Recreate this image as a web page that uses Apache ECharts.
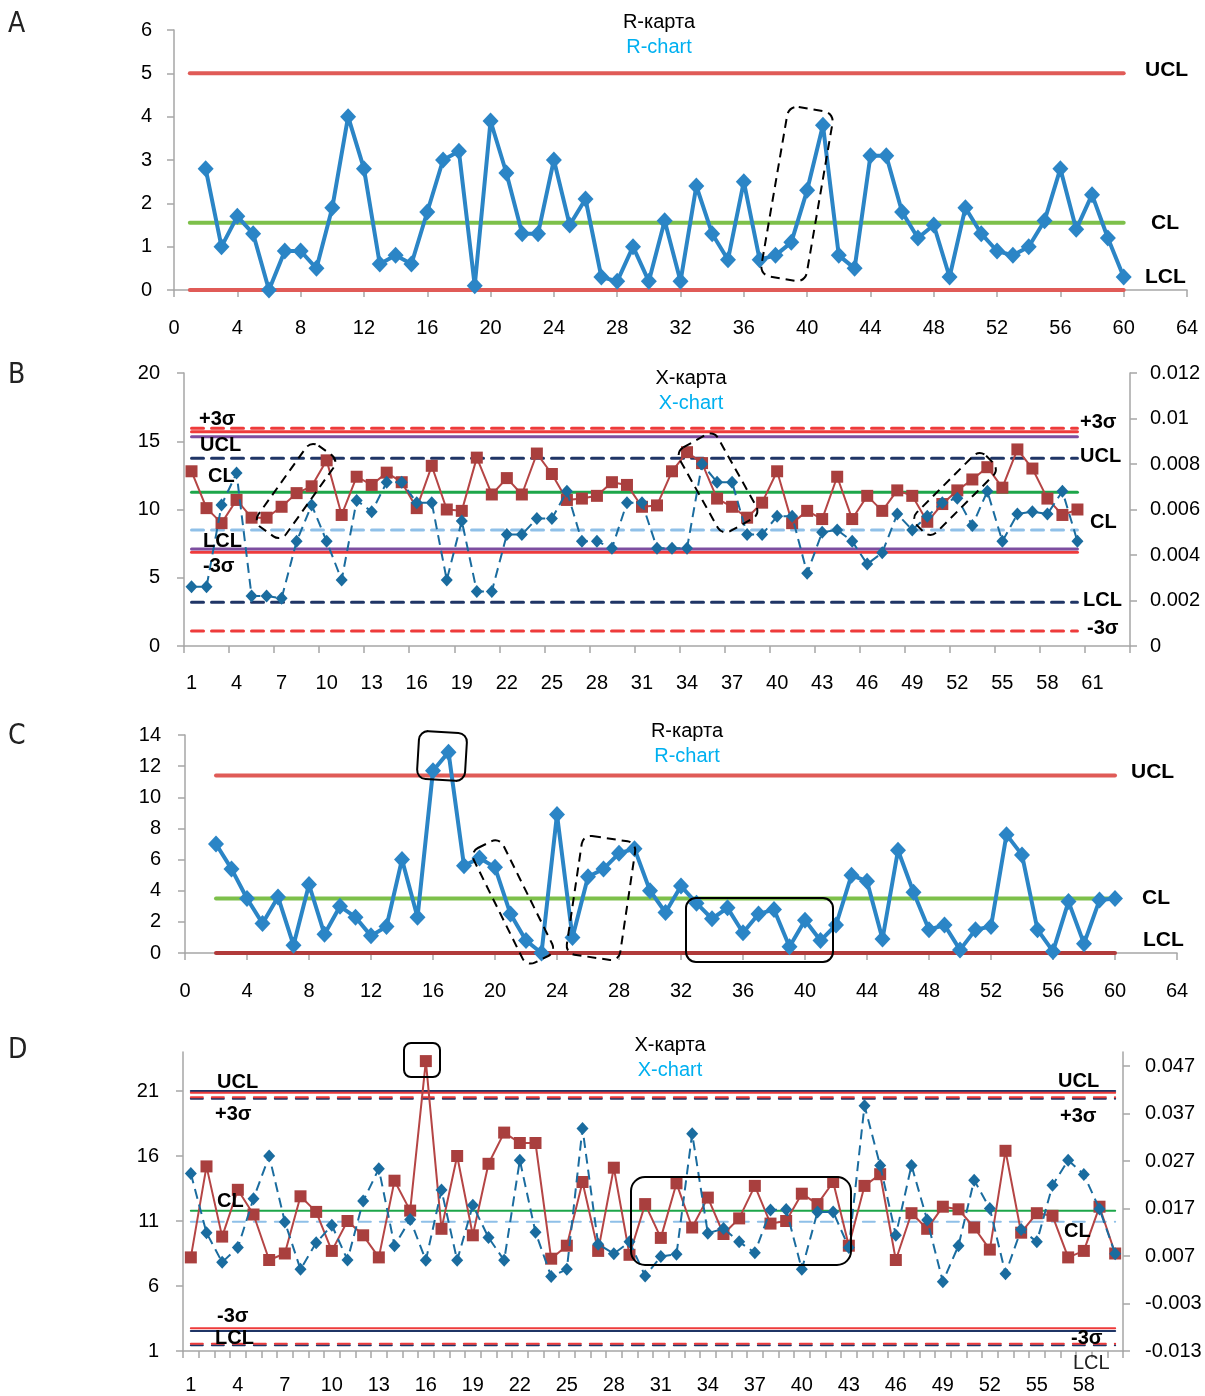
<!DOCTYPE html>
<html><head><meta charset="utf-8">
<script src="https://cdn.jsdelivr.net/npm/echarts@6/dist/echarts.min.js"></script>
<style>html,body{margin:0;padding:0;background:#fff}#c{width:1205px;height:1396px}</style>
</head><body><div id="c"></div>
<script>
// ---------- DATA ----------
// Panel A (R-chart), samples 2..60
const aStart = 2;
const aValues = [2.8,1.0,1.7,1.3,0,0.9,0.9,0.5,1.9,4.0,2.8,0.6,0.8,0.6,1.8,3.0,3.2,0.1,3.9,2.7,1.3,1.3,3.0,1.5,2.1,0.3,0.2,1.0,0.2,1.6,0.2,2.4,1.3,0.7,2.5,0.7,0.8,1.1,2.3,3.8,0.8,0.5,3.1,3.1,1.8,1.2,1.5,0.3,1.9,1.3,0.9,0.8,1.0,1.6,2.8,1.4,2.2,1.2,0.3];
const aUCL = 5, aCL = 1.55, aLCL = 0;
const aLineRange = [1, 60];

// Panel B (X-chart), samples 1..60 on 63 categories
const bCategories = Array.from({length: 63}, (_, i) => String(i + 1));
const bRed = [12.8,10.1,9.0,10.7,9.4,9.4,10.2,11.2,11.7,13.6,9.6,12.4,11.8,12.7,12.0,10.1,13.2,10.0,9.9,13.8,11.1,12.3,11.1,14.1,12.6,10.7,10.8,11.0,12.0,11.8,10.2,10.3,12.8,14.2,13.4,10.8,10.2,9.4,10.5,12.8,9.0,9.9,9.3,12.4,9.3,11.0,9.9,11.4,11.0,9.1,10.4,11.4,12.2,13.1,11.6,14.4,13.0,10.8,9.6,10.0];
const bBlue = [0.0026,0.0026,0.0062,0.0076,0.0022,0.0022,0.0021,0.0046,0.0062,0.0046,0.0029,0.0064,0.0059,0.0072,0.0072,0.0063,0.0063,0.0029,0.0055,0.0024,0.0024,0.0049,0.0049,0.0056,0.0056,0.0068,0.0046,0.0046,0.0043,0.0063,0.0063,0.0043,0.0043,0.0043,0.0080,0.0072,0.0072,0.0049,0.0049,0.0057,0.0057,0.0032,0.0050,0.0051,0.0046,0.0036,0.0041,0.0058,0.0051,0.0057,0.0063,0.0065,0.0053,0.0068,0.0046,0.0058,0.0059,0.0058,0.0068,0.0046];
const bPlus3SigmaDash = 15.95, bPlus3Sigma = 15.7, bUCLsolid = 15.33, bUCLdash = 13.75, bCL = 11.26, bCLdash = 8.5, bLCLsolid = 7.1, bMinus3Sigma = 6.86, bLCLdash = 3.2, bMinus3SigmaDash = 1.1;
const bLineRange = [0, 59];

// Panel C (R-chart), samples 2..60
const cStart = 2;
const cValues = [7.0,5.4,3.5,1.9,3.6,0.5,4.4,1.2,3.0,2.3,1.1,1.7,6.0,2.3,11.7,12.9,5.6,6.1,5.5,2.5,0.8,0,8.9,1.0,4.9,5.4,6.4,6.7,4.0,2.6,4.3,3.2,2.2,2.9,1.3,2.5,2.8,0.4,2.1,0.8,1.8,5.0,4.6,0.9,6.6,3.9,1.5,1.8,0.2,1.5,1.7,7.6,6.3,1.5,0.1,3.3,0.6,3.4,3.5];
const cUCL = 11.4, cCL = 3.5, cLCL = 0;
const cLineRange = [2, 60];

// Panel D (X-chart), samples 1..60
const dCategories = Array.from({length: 60}, (_, i) => String(i + 1));
const dRed = [8.2,15.2,9.8,13.4,11.5,8.0,8.5,12.9,11.7,8.7,11.0,9.9,8.2,14.1,11.8,23.3,10.4,16.0,9.9,15.4,17.8,17.0,17.0,8.1,9.1,14.0,8.7,15.1,8.4,12.3,9.7,13.9,10.5,12.8,10.0,11.2,13.7,10.8,11.0,13.1,12.3,14.0,9.1,13.7,14.6,8.0,11.6,10.4,12.1,11.9,10.5,8.8,16.4,10.1,11.6,11.4,8.2,8.7,12.1,8.5];
const dBlue = [0.0244,0.0119,0.0057,0.0088,0.0191,0.0281,0.0142,0.0042,0.0098,0.0135,0.0062,0.0186,0.0254,0.0092,0.0147,0.0061,0.0209,0.0061,0.0177,0.0109,0.0061,0.0272,0.0120,0.0027,0.0042,0.0339,0.0095,0.0075,0.0100,0.0028,0.0069,0.0074,0.0328,0.0118,0.0128,0.0100,0.0077,0.0167,0.0168,0.0042,0.0163,0.0163,0.0088,0.0387,0.0261,0.0114,0.0261,0.0146,0.0016,0.0092,0.0230,0.0170,0.0033,0.0126,0.0100,0.0219,0.0272,0.0242,0.0169,0.0075];
const dUCL = 21.0, dPlus3Sigma = 20.87, dPlus3SigmaDashRed = 20.52, dPlus3SigmaDashNavy = 20.41, dCL = 11.78, dCLdash = 10.94, dMinus3Sigma = 2.75, dLCL = 2.54, dMinus3SigmaDashRed = 1.56, dMinus3SigmaDashNavy = 1.45;
const dLineRange = [0, 59];
const dLeftTicks = [1, 6, 11, 16, 21];
const dRightTicks = [-0.013, -0.003, 0.007, 0.017, 0.027, 0.037, 0.047];

// ---------- STYLE ----------
const FONT = '"Liberation Sans", Arial, sans-serif';
const AX = '#A6A6A6';
const C_BLUE = '#2B85C6', C_RED_A = '#E05B57', C_GREEN_A = '#7DC04A', C_DKRED = '#B13A3A';
const C_SQ = '#A93F3E', C_SQLINE = '#B54545', C_DIA = '#1A6C9F';
const C_RED = '#EE3B3B', C_PURPLE = '#7D4EA0', C_NAVY = '#1F3566', C_GREEN = '#1DA64A', C_LBLUE = '#8FC0E8';

function pairs(start, vals) { return vals.map((v, i) => [start + i, v]); }
function hLine(gi, xi, yi, range, v, color, width, type, z) {
  return {
    type: 'line', xAxisIndex: xi, yAxisIndex: yi, data: [[range[0], v], [range[1], v]],
    symbol: 'none', silent: true, z: z || 2,
    lineStyle: {color: color, width: width, type: type || 'solid', cap: 'round'}
  };
}
const axisLabelBase = {color: '#000', fontFamily: FONT, fontSize: 20};
function valX(gi, min, max, interval, margin) {
  return {type: 'value', gridIndex: gi, min: min, max: max, interval: interval,
    axisLine: {show: true, onZero: false, lineStyle: {color: AX, width: 1.5}},
    axisTick: {show: true, length: 7, lineStyle: {color: AX, width: 1.5}},
    axisLabel: Object.assign({margin: margin}, axisLabelBase),
    splitLine: {show: false}};
}
function catX(gi, data, labelInt, tickInt, margin) {
  return {type: 'category', gridIndex: gi, data: data, boundaryGap: true,
    axisLine: {show: true, onZero: false, lineStyle: {color: AX, width: 1.5}},
    axisTick: {show: true, length: 7, interval: tickInt, lineStyle: {color: AX, width: 1.5}},
    axisLabel: Object.assign({margin: margin, interval: labelInt}, axisLabelBase),
    splitLine: {show: false}};
}
function valY(gi, min, max, interval, margin, pos, extra) {
  const o = {type: 'value', gridIndex: gi, min: min, max: max, interval: interval, position: pos || 'left',
    axisLine: {show: true, onZero: false, lineStyle: {color: AX, width: 1.5}},
    axisTick: {show: true, length: 7, lineStyle: {color: AX, width: 1.5}},
    axisLabel: Object.assign({margin: margin}, axisLabelBase),
    splitLine: {show: false}};
  if (extra) extra(o);
  return o;
}

// ---------- OPTION ----------
const grids = [
  {left: 174, top: 30, width: 1013, height: 260},
  {left: 184, top: 373, width: 946, height: 273},
  {left: 185, top: 735, width: 992, height: 218},
  {left: 183, top: 1052, width: 940, height: 299}
].map(g => Object.assign({containLabel: false, outerBoundsMode: 'none'}, g));

const xAxes = [
  valX(0, 0, 64, 4, 28),
  catX(1, bCategories, 2, 2, 27),
  valX(2, 0, 64, 4, 28),
  catX(3, dCategories, 2, 0, 24)
];
const yAxes = [
  valY(0, 0, 6, 1, 22),
  valY(1, 0, 20, 5, 24),
  valY(1, 0, 0.012, 0.002, 20, 'right'),
  valY(2, 0, 14, 2, 24),
  valY(3, 1, 24, null, 24, 'left', o => {
    delete o.interval;
    o.axisLabel.customValues = dLeftTicks;
    o.axisTick.customValues = dLeftTicks;
  }),
  valY(3, -0.013, 0.05, null, 22, 'right', o => {
    delete o.interval;
    o.axisLabel.customValues = dRightTicks;
    o.axisTick.customValues = dRightTicks;
    o.axisLabel.formatter = v => (Math.abs(v) < 1e-9 ? '0' : v.toFixed(3));
  })
];

function dataLineA(xi, yi, start, vals) {
  return {type: 'line', xAxisIndex: xi, yAxisIndex: yi, data: pairs(start, vals), z: 5,
    symbol: 'diamond', symbolSize: [16, 17], showSymbol: true, showAllSymbol: true,
    lineStyle: {color: C_BLUE, width: 4}, itemStyle: {color: C_BLUE}};
}
function redSeries(xi, yi, vals) {
  return {type: 'line', xAxisIndex: xi, yAxisIndex: yi, data: vals, z: 5,
    symbol: 'rect', symbolSize: 12, showSymbol: true, showAllSymbol: true,
    lineStyle: {color: C_SQLINE, width: 2}, itemStyle: {color: C_SQ}};
}
function blueSeries(xi, yi, vals) {
  return {type: 'line', xAxisIndex: xi, yAxisIndex: yi, data: vals, z: 6,
    symbol: 'diamond', symbolSize: [12, 13], showSymbol: true, showAllSymbol: true,
    lineStyle: {color: C_DIA, width: 2, type: [10, 6]}, itemStyle: {color: C_DIA}};
}

const DB = [12, 8], DD = [12, 9];
const series = [
  // A
  hLine(0, 0, 0, aLineRange, aUCL, C_RED_A, 4),
  hLine(0, 0, 0, aLineRange, aCL, C_GREEN_A, 4),
  hLine(0, 0, 0, aLineRange, aLCL, C_RED_A, 4),
  dataLineA(0, 0, aStart, aValues),
  // B
  hLine(1, 1, 1, bLineRange, bPlus3SigmaDash, C_RED, 3, DB),
  hLine(1, 1, 1, bLineRange, bPlus3Sigma, C_RED, 3),
  hLine(1, 1, 1, bLineRange, bUCLsolid, C_PURPLE, 3),
  hLine(1, 1, 1, bLineRange, bUCLdash, C_NAVY, 3, DB),
  hLine(1, 1, 1, bLineRange, bCL, C_GREEN, 3),
  hLine(1, 1, 1, bLineRange, bCLdash, C_LBLUE, 3, DB),
  hLine(1, 1, 1, bLineRange, bMinus3Sigma, C_RED, 3),
  hLine(1, 1, 1, bLineRange, bLCLsolid, C_PURPLE, 3),
  hLine(1, 1, 1, bLineRange, bLCLdash, C_NAVY, 3, DB),
  hLine(1, 1, 1, bLineRange, bMinus3SigmaDash, C_RED, 3, DB),
  redSeries(1, 1, bRed),
  blueSeries(1, 2, bBlue),
  // C
  hLine(2, 2, 3, cLineRange, cUCL, C_RED_A, 4),
  hLine(2, 2, 3, cLineRange, cCL, C_GREEN_A, 4),
  hLine(2, 2, 3, cLineRange, cLCL, C_DKRED, 4),
  dataLineA(2, 3, cStart, cValues),
  // D
  hLine(3, 3, 4, dLineRange, dUCL, C_NAVY, 2),
  hLine(3, 3, 4, dLineRange, dPlus3Sigma, C_RED, 2),
  hLine(3, 3, 4, dLineRange, dPlus3SigmaDashNavy, C_NAVY, 2, DD),
  hLine(3, 3, 4, dLineRange, dPlus3SigmaDashRed, C_RED, 2, DD),
  hLine(3, 3, 4, dLineRange, dCL, C_GREEN, 2),
  hLine(3, 3, 4, dLineRange, dCLdash, C_LBLUE, 2, DD),
  hLine(3, 3, 4, dLineRange, dLCL, C_NAVY, 2),
  hLine(3, 3, 4, dLineRange, dMinus3Sigma, C_RED, 2),
  hLine(3, 3, 4, dLineRange, dMinus3SigmaDashNavy, C_NAVY, 2, DD),
  hLine(3, 3, 4, dLineRange, dMinus3SigmaDashRed, C_RED, 2, DD),
  redSeries(3, 4, dRed),
  blueSeries(3, 5, dBlue)
];

// ---------- ANNOTATIONS ----------
function txt(s, x, y, size, weight, color, align) {
  return {type: 'text', x: x, y: y, z: 100, silent: true,
    style: {text: s, fill: color || '#000', font: (weight || 'normal') + ' ' + size + 'px ' + FONT,
      textAlign: align || 'left', textVerticalAlign: 'middle'}};
}
function box(cx, cy, w, h, rot, r, dashed) {
  return {type: 'rect', x: cx, y: cy, rotation: rot, z: 100, silent: true,
    shape: {x: -w / 2, y: -h / 2, width: w, height: h, r: r},
    style: {fill: 'none', stroke: '#000', lineWidth: 2, lineDash: dashed ? [9, 6] : null}};
}
const LBL = 20, TITLE = 20, SKY = '#00B0F0';
const LETTER_FONT = '28px "Liberation Sans Narrow", "DejaVu Sans Condensed", sans-serif';
const graphics = [
  // panel letters
  {type: 'text', x: 8, y: 25, style: {text: 'A', fill: '#222', font: LETTER_FONT, textVerticalAlign: 'middle'}},
  {type: 'text', x: 8, y: 376, style: {text: 'B', fill: '#222', font: LETTER_FONT, textVerticalAlign: 'middle'}},
  {type: 'text', x: 8, y: 737, style: {text: 'C', fill: '#222', font: LETTER_FONT, textVerticalAlign: 'middle'}},
  {type: 'text', x: 8, y: 1051, style: {text: 'D', fill: '#222', font: LETTER_FONT, textVerticalAlign: 'middle'}},
  // titles
  txt('R-карта', 659, 22, TITLE, 'normal', '#000', 'center'),
  txt('R-chart', 659, 47, TITLE, 'normal', SKY, 'center'),
  txt('X-карта', 691, 378, TITLE, 'normal', '#000', 'center'),
  txt('X-chart', 691, 403, TITLE, 'normal', SKY, 'center'),
  txt('R-карта', 687, 731, TITLE, 'normal', '#000', 'center'),
  txt('R-chart', 687, 756, TITLE, 'normal', SKY, 'center'),
  txt('X-карта', 670, 1045, TITLE, 'normal', '#000', 'center'),
  txt('X-chart', 670, 1070, TITLE, 'normal', SKY, 'center'),
  // A labels
  txt('UCL', 1145, 70, 21, 'bold'), txt('CL', 1151, 223, 21, 'bold'), txt('LCL', 1145, 277, 21, 'bold'),
  // B labels
  txt('+3σ', 199, 419, LBL, 'bold'), txt('UCL', 200, 445, LBL, 'bold'), txt('CL', 208, 476, LBL, 'bold'),
  txt('LCL', 203, 541, LBL, 'bold'), txt('-3σ', 203, 566, LBL, 'bold'),
  txt('+3σ', 1080, 422, LBL, 'bold'), txt('UCL', 1080, 456, LBL, 'bold'), txt('CL', 1090, 522, LBL, 'bold'),
  txt('LCL', 1083, 600, LBL, 'bold'), txt('-3σ', 1087, 628, LBL, 'bold'),
  // C labels
  txt('UCL', 1131, 772, 21, 'bold'), txt('CL', 1142, 898, 21, 'bold'), txt('LCL', 1143, 940, 21, 'bold'),
  // D labels
  txt('UCL', 217, 1082, LBL, 'bold'), txt('+3σ', 215, 1114, LBL, 'bold'), txt('CL', 217, 1201, LBL, 'bold'),
  txt('-3σ', 217, 1316, LBL, 'bold'), txt('LCL', 215, 1338, LBL, 'bold'),
  txt('UCL', 1058, 1081, LBL, 'bold'), txt('+3σ', 1060, 1116, LBL, 'bold'), txt('CL', 1064, 1231, LBL, 'bold'),
  txt('-3σ', 1071, 1338, LBL, 'bold'), txt('LCL', 1073, 1363, LBL, 'normal', '#222'),
  // boxes
  box(797, 194, 46, 172, -0.17, 10, true),
  box(296, 491, 34, 100, -0.62, 9, true),
  box(718, 483, 44, 96, 0.51, 9, true),
  box(955, 494, 28, 98, -0.785, 9, true),
  box(442, 756, 48, 48, -0.06, 9, false),
  box(513, 902, 33, 128, 0.46, 9, true),
  box(601, 898, 54, 120, -0.147, 9, true),
  box(759.5, 930, 147, 64, 0, 10, false),
  box(422, 1060, 36, 34, 0, 7, false),
  box(741, 1221, 220, 88, 0, 14, false)
];

const chart = echarts.init(document.getElementById('c'));
chart.setOption({
  animation: false,
  backgroundColor: '#fff',
  grid: grids,
  xAxis: xAxes,
  yAxis: yAxes,
  series: series,
  graphic: {elements: graphics}
});
</script>
</body></html>
